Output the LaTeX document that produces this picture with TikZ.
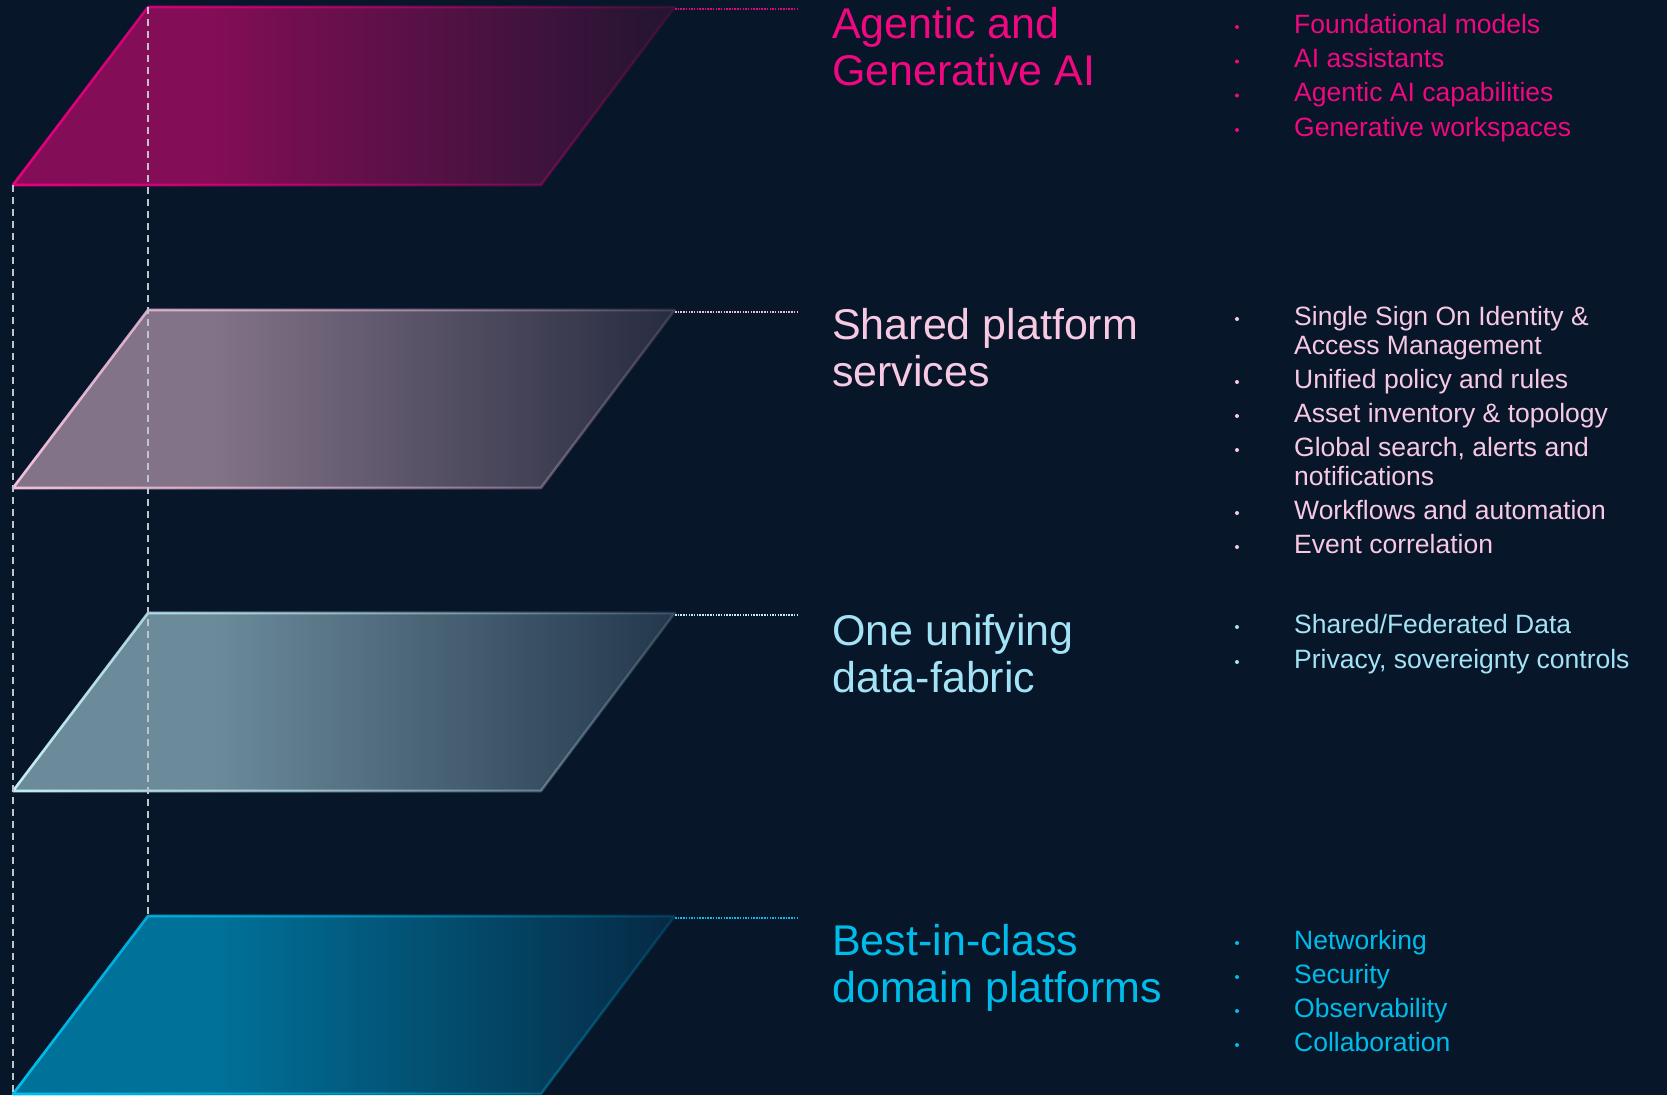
\documentclass[tikz,border=0pt]{standalone}
\usepackage{fontspec}
\setmainfont{Liberation Sans}
\usetikzlibrary{fadings}
\definecolor{bg}{HTML}{071629}
\definecolor{guidegray}{HTML}{C0C4CC}
% edge colours
\definecolor{magE}{HTML}{E8007F}
\definecolor{pnkE}{HTML}{F2C0DD}
\definecolor{cyaE}{HTML}{C4EEF8}
\definecolor{bluE}{HTML}{00BFEF}
% text colours
\definecolor{magT}{HTML}{F00880}
\definecolor{pnkT}{HTML}{F7C9E3}
\definecolor{cyaT}{HTML}{A3E3F5}
\definecolor{bluT}{HTML}{00BCEB}
% fill colours
\definecolor{mL}{HTML}{830D56}
\definecolor{mR}{HTML}{221531}
\definecolor{pL}{HTML}{837388}
\definecolor{pR}{HTML}{262C40}
\definecolor{cL}{HTML}{6B8B9B}
\definecolor{cR}{HTML}{24374C}
\definecolor{bL}{HTML}{00729A}
\definecolor{bR}{HTML}{062944}
% the path's bounding box maps onto 25bp..75bp of the shading
\pgfdeclarehorizontalshading{shadeM}{100bp}{color(0bp)=(mL); color(40bp)=(mL); color(75bp)=(mR); color(100bp)=(mR)}
\pgfdeclarehorizontalshading{shadeP}{100bp}{color(0bp)=(pL); color(40bp)=(pL); color(75bp)=(pR); color(100bp)=(pR)}
\pgfdeclarehorizontalshading{shadeC}{100bp}{color(0bp)=(cL); color(40bp)=(cL); color(75bp)=(cR); color(100bp)=(cR)}
\pgfdeclarehorizontalshading{shadeB}{100bp}{color(0bp)=(bL); color(40bp)=(bL); color(75bp)=(bR); color(100bp)=(bR)}
\tikzfading[name=edgefade, left color=transparent!0, right color=transparent!85]
\begin{document}
\begin{tikzpicture}[x=1pt, y=-1pt,
  title/.style={anchor=base west, inner sep=0pt, align=left, font=\fontsize{43}{47}\selectfont},
  item/.style={anchor=base west, inner sep=0pt, align=left, font=\fontsize{26.5}{29}\selectfont},
  dot/.style={circle, inner sep=0pt, minimum size=4pt, draw=none},
  guide/.style={draw=guidegray, line width=1.8pt, dash pattern=on 7pt off 5pt},
  leader/.style={line width=1.8pt, dash pattern=on 1.5pt off 1.2pt},
  edge/.style={line width=2.6pt, line join=round, path fading=edgefade}]
\useasboundingbox (0,0) rectangle (1667,1095);
\fill[bg] (0,0) rectangle (1667,1095);

\foreach \n/\t/\ec/\sh in {1/7/magE/shadeM, 2/310/pnkE/shadeP, 3/613/cyaE/shadeC, 4/916/bluE/shadeB}{
  \pgfmathsetmacro\bt{\t+178}
  \coordinate (L\n a) at (148,\t);
  \coordinate (L\n b) at (675,\t);
  \coordinate (L\n c) at (541,\bt);
  \coordinate (L\n d) at (13,\bt);
  \coordinate (L\n e) at (797,\t+2);
  \shade[shading=\sh] (L\n a) -- (L\n b) -- (L\n c) -- (L\n d) -- cycle;
  \draw[edge, draw=\ec] (L\n a) -- (L\n b) -- (L\n c) -- (L\n d) -- cycle;
  \draw[leader, draw=\ec] ([yshift=-2pt]L\n b) -- (L\n e);
}

% guide lines
\coordinate (gbot) at (13,1095);
\draw[guide] (L1d) -- (gbot);
\draw[guide] (L1a) -- (L4a);

% titles (anchor is the baseline of the last line)
\node[title, text=magT] (t1) at (832,85) {Agentic and\\Generative AI};
\node[title, text=pnkT] (t2) at (832,386) {Shared platform\\services};
\node[title, text=cyaT] (t3) at (832,692) {One unifying\\data-fabric};
\node[title, text=bluT] (t4) at (832,1002) {Best-in-class\\domain platforms};

% layer 1 items
\node[item, text=magT] (i11) at (1294,33) {Foundational models};
\node[item, text=magT] (i12) at (1294,67.5) {AI assistants};
\node[item, text=magT] (i13) at (1294,101.5) {Agentic AI capabilities};
\node[item, text=magT] (i14) at (1294,136) {Generative workspaces};
\node[dot, fill=magT] (d11) at (1237,27) {};
\node[dot, fill=magT] (d12) at (1237,61.5) {};
\node[dot, fill=magT] (d13) at (1237,95.5) {};
\node[dot, fill=magT] (d14) at (1237,130) {};

% layer 2 items
\node[item, text=pnkT] (i21) at (1294,354) {Single Sign On Identity \&\\Access Management};
\node[item, text=pnkT] (i22) at (1294,388) {Unified policy and rules};
\node[item, text=pnkT] (i23) at (1294,422) {Asset inventory \& topology};
\node[item, text=pnkT] (i24) at (1294,485) {Global search, alerts and\\notifications};
\node[item, text=pnkT] (i25) at (1294,519) {Workflows and automation};
\node[item, text=pnkT] (i26) at (1294,553) {Event correlation};
\node[dot, fill=pnkT] (d21) at (1237,319) {};
\node[dot, fill=pnkT] (d22) at (1237,382) {};
\node[dot, fill=pnkT] (d23) at (1237,416) {};
\node[dot, fill=pnkT] (d24) at (1237,450) {};
\node[dot, fill=pnkT] (d25) at (1237,513) {};
\node[dot, fill=pnkT] (d26) at (1237,547) {};

% layer 3 items
\node[item, text=cyaT] (i31) at (1294,633) {Shared/Federated Data};
\node[item, text=cyaT] (i32) at (1294,668) {Privacy, sovereignty controls};
\node[dot, fill=cyaT] (d31) at (1237,627) {};
\node[dot, fill=cyaT] (d32) at (1237,662) {};

% layer 4 items
\node[item, text=bluT] (i41) at (1294,949) {Networking};
\node[item, text=bluT] (i42) at (1294,983) {Security};
\node[item, text=bluT] (i43) at (1294,1017) {Observability};
\node[item, text=bluT] (i44) at (1294,1051) {Collaboration};
\node[dot, fill=bluT] (d41) at (1237,943) {};
\node[dot, fill=bluT] (d42) at (1237,977) {};
\node[dot, fill=bluT] (d43) at (1237,1011) {};
\node[dot, fill=bluT] (d44) at (1237,1045) {};
\end{tikzpicture}
\end{document}
